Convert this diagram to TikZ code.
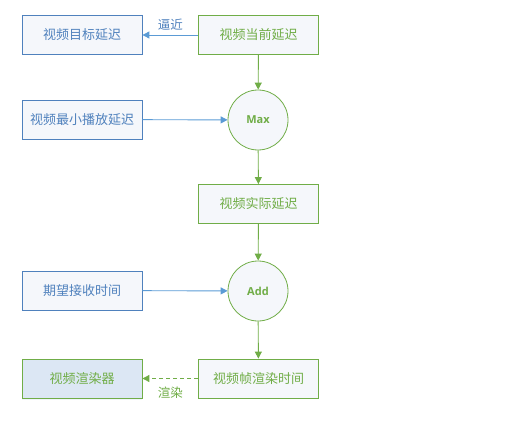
\documentclass[tikz,border=0pt]{standalone}
\usepackage{fontspec}
\setmainfont{Noto Sans CJK SC}
\newfontfamily\latinf{Open Sans}
\usetikzlibrary{arrows.meta,shadows}
\definecolor{bblue}{HTML}{4F81BD}
\definecolor{ablue}{HTML}{5B9BD5}
\definecolor{ggreen}{HTML}{70AD47}
\definecolor{fillbg}{HTML}{F5F7FB}
\definecolor{rfill}{HTML}{DCE7F4}
\tikzset{
  boxbase/.style={rectangle, minimum width=120pt, minimum height=39pt, inner sep=0pt, line width=0.8pt, font=\fontsize{13}{15}\selectfont, fill=fillbg},
  bluebox/.style={boxbase, draw=bblue, text=bblue},
  greenbox/.style={boxbase, draw=ggreen, text=ggreen},
  opcircle/.style={circle, minimum size=60pt, inner sep=0pt, draw=ggreen, line width=0.8pt, text=ggreen, font=\latinf\bfseries\fontsize{11}{13}\selectfont, fill=fillbg},
  rbox/.style={rectangle, minimum width=120pt, minimum height=39pt, inner sep=0pt, line width=0.8pt, draw=ggreen, text=ggreen, fill=rfill, font=\fontsize{13}{15}\selectfont, drop shadow={shadow xshift=0pt, shadow yshift=-1.5pt, opacity=0.2, fill=bblue!40}},
  barrow/.style={draw=ablue, line width=0.9pt, -{Triangle[length=7pt,width=7pt]}},
  garrow/.style={draw=ggreen, line width=0.9pt, -{Triangle[length=7pt,width=7pt]}},
  lbl/.style={font=\fontsize{12.5}{14}\selectfont},
}
\begin{document}
\begin{tikzpicture}[x=1pt,y=-1pt]
\useasboundingbox (0,0) rectangle (519,441);
\node[bluebox] (target) at (82,35) {视频目标延迟};
\node[greenbox] (current) at (258.5,35) {视频当前延迟};
\node[bluebox] (minplay) at (82,119.5) {视频最小播放延迟};
\node[opcircle] (max) at (258,120) {Max};
\node[greenbox] (actual) at (258.5,204) {视频实际延迟};
\node[bluebox] (expect) at (82,290.5) {期望接收时间};
\node[opcircle] (add) at (258,291) {Add};
\node[rbox] (renderer) at (82,378.5) {视频渲染器};
\node[greenbox] (frametime) at (258.5,378.5) {视频帧渲染时间};

\draw[barrow] (current) -- node[lbl, text=bblue, above=1pt] {逼近} (target);
\draw[garrow] (current) -- (max);
\draw[barrow] (minplay) -- (max);
\draw[garrow] (max) -- (actual);
\draw[garrow] (actual) -- (add);
\draw[barrow] (expect) -- (add);
\draw[garrow] (add) -- (frametime);
\draw[garrow, dashed, dash pattern=on 4pt off 3pt] (frametime) -- node[lbl, text=ggreen, below=5pt] {渲染} (renderer);
\end{tikzpicture}
\end{document}
